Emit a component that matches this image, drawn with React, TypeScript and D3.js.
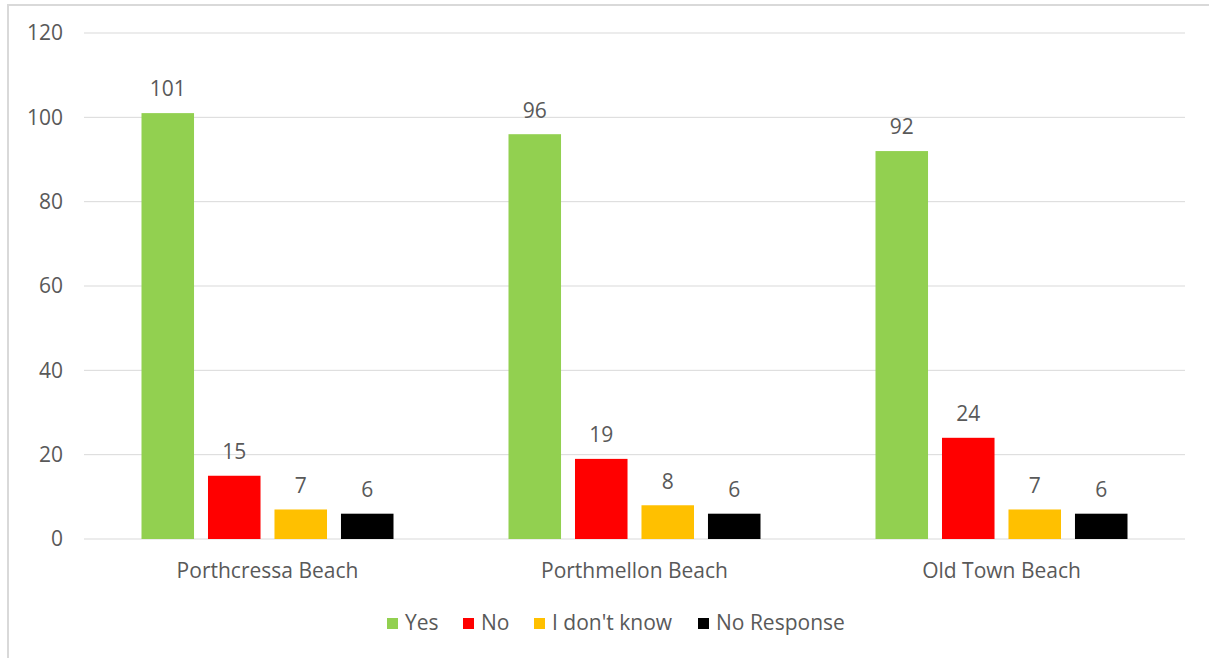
import React from "react";
import * as d3 from "d3";

const categories = ["Porthcressa Beach", "Porthmellon Beach", "Old Town Beach"];
const seriesNames = ["Yes", "No", "I don't know", "No Response"];
const seriesColors = ["#92D050", "#FF0000", "#FFC000", "#000000"];
const yesValues = [101, 96, 92];
const noValues = [15, 19, 24];
const dontKnowValues = [7, 8, 7];
const noResponseValues = [6, 6, 6];
const yTicks = [0, 20, 40, 60, 80, 100, 120];

const seriesValues = [yesValues, noValues, dontKnowValues, noResponseValues];

const W = 1209;
const H = 658;
const left = 84;
const right = 1185;
const top = 33;
const bottom = 539;
const FONT = "'Open Sans', Lato, sans-serif";
const TEXT = "#595959";
const FS = 21;

export default function App() {
  const x0 = d3.scaleBand<string>().domain(categories).range([left, right]).paddingInner(0).paddingOuter(0);
  const groupW = 252;
  const cw = x0.bandwidth();
  const x1 = d3
    .scaleBand<string>()
    .domain(seriesNames)
    .range([(cw - groupW) / 2, (cw + groupW) / 2])
    .paddingInner(0.21)
    .paddingOuter(0);
  const y = d3.scaleLinear().domain([0, 120]).range([bottom, top]);

  const legendItems = [
    { name: "Yes", sx: 387, tx: 405 },
    { name: "No", sx: 463, tx: 481 },
    { name: "I don't know", sx: 534, tx: 552 },
    { name: "No Response", sx: 698, tx: 716 },
  ];

  return (
    <svg
      width={W}
      height={H}
      style={{ position: "absolute", left: 0, top: 0, background: "#fff" }}
      fontFamily={FONT}
    >
      <rect x={0} y={0} width={W} height={H} fill="#fff" />
      <line x1={8} x2={W} y1={5} y2={5} stroke="#d9d9d9" strokeWidth={2} />
      <line x1={8} x2={8} y1={4} y2={H} stroke="#d9d9d9" strokeWidth={2} />

      {yTicks.map((t) => (
        <g key={t}>
          <line x1={left} x2={right} y1={y(t)} y2={y(t)} stroke="#d9d9d9" strokeWidth={1} />
          <text x={63} y={y(t)} dy="0.35em" textAnchor="end" fontSize={FS} fill={TEXT}>
            {t}
          </text>
        </g>
      ))}

      {categories.map((c, ci) => (
        <g key={c} transform={`translate(${x0(c)},0)`}>
          {seriesNames.map((s, si) => {
            const v = seriesValues[si][ci];
            const bx = x1(s)!;
            return (
              <g key={s}>
                <rect
                  x={bx}
                  y={y(v)}
                  width={x1.bandwidth()}
                  height={y(0) - y(v)}
                  fill={seriesColors[si]}
                />
                <text
                  x={bx + x1.bandwidth() / 2}
                  y={y(v) - 24}
                  dy="0.35em"
                  textAnchor="middle"
                  fontSize={FS}
                  fill={TEXT}
                >
                  {v}
                </text>
              </g>
            );
          })}
          <text x={cw / 2} y={571} dy="0.35em" textAnchor="middle" fontSize={FS} fill={TEXT}>
            {c}
          </text>
        </g>
      ))}

      {legendItems.map((l, i) => (
        <g key={l.name}>
          <rect x={l.sx} y={618} width={11} height={11} fill={seriesColors[i]} />
          <text x={l.tx} y={623} dy="0.35em" fontSize={FS} fill={TEXT}>
            {l.name}
          </text>
        </g>
      ))}
    </svg>
  );
}
